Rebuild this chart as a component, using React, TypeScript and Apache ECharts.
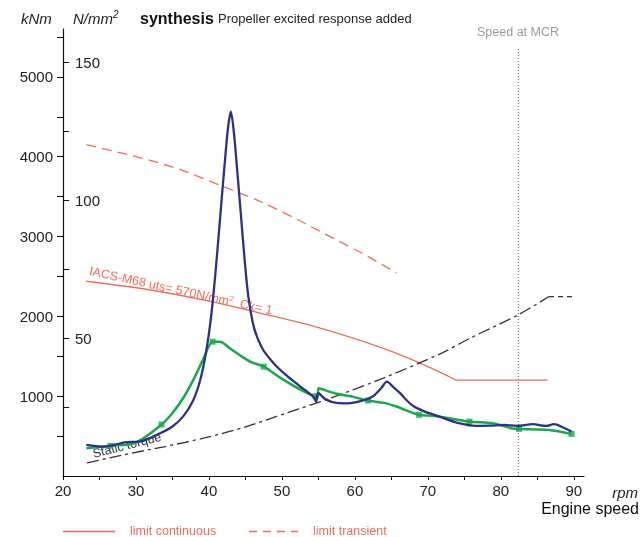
import React, { useEffect, useRef } from "react";
import * as echarts from "echarts";

// ---- axis ticks / labels ----
const rpmTicks = [20, 25, 30, 35, 40, 45, 50, 55, 60, 65, 70, 75, 80, 85, 90];
const rpmLabels = [20, 30, 40, 50, 60, 70, 80, 90];
const kNmTicks = [500, 1000, 1500, 2000, 2500, 3000, 3500, 4000, 4500, 5000, 5500];
const kNmLabels = [1000, 2000, 3000, 4000, 5000];
const stressTicks = [25, 50, 75, 100, 125, 150];
const stressLabels = [50, 100, 150];

// ---- series [rpm, kNm] ----
const responseCurve: [number, number][] = [
  [23.2, 389], [25.5, 367], [28.7, 425], [30.5, 430], [33.3, 535], [35.0, 620],
  [36.5, 750], [37.8, 940], [38.8, 1200], [39.6, 1550], [40.3, 2000], [40.9, 2550],
  [41.5, 3200], [42.1, 3850], [42.6, 4350], [43.0, 4565], [43.4, 4320], [43.9, 3800],
  [44.4, 3250], [44.9, 2700], [45.4, 2250], [46.2, 1850], [47.3, 1600], [48.8, 1420],
  [50.5, 1270], [52.4, 1130], [54.3, 993], [54.7, 930], [54.95, 1040], [56.0, 960],
  [57.5, 915], [59.0, 910], [60.9, 940], [62.5, 1000], [63.6, 1100], [64.4, 1183],
  [65.2, 1120], [66.2, 1038], [67.2, 940], [68.1, 870], [69.5, 810], [70.9, 766],
  [72.6, 710], [74.3, 661], [76.5, 628], [78.5, 630], [80.5, 640], [82.2, 628],
  [84.4, 649], [86.2, 628], [87.3, 649], [88.5, 610], [89.7, 556],
];
const propellerCurve: [number, number][] = [
  [23.2, 347], [26.5, 378], [29.9, 414], [33.5, 645], [35.0, 790], [36.5, 980],
  [38.0, 1230], [39.3, 1480], [40.5, 1683], [41.5, 1683], [43.0, 1590], [44.2, 1516],
  [45.7, 1431], [47.5, 1370], [49.8, 1230], [52.6, 1079], [54.4, 1000], [54.9, 990],
  [55.0, 1100], [57.5, 1030], [59.8, 991], [61.8, 945], [64.0, 916], [65.7, 870],
  [68.8, 766], [71.0, 753], [75.7, 682], [78.9, 661], [81.6, 595], [82.5, 590],
  [86.6, 577], [89.7, 527],
];
const propellerMarkers: [number, number][] = [
  [26.5, 378], [33.5, 645], [40.5, 1683], [47.5, 1370], [54.6, 1000], [61.8, 945],
  [68.8, 766], [75.7, 682], [82.5, 590], [89.7, 527],
];
const staticTorque: [number, number][] = [
  [23.3, 163], [28.0, 260], [33.8, 366], [39.4, 477], [45.0, 615], [50.7, 791],
  [56.5, 970], [63.9, 1226], [71.9, 1540], [75.8, 1727], [82.4, 2020], [86.6, 2248],
];
const staticTorqueEnd: [number, number][] = [[86.6, 2248], [89.8, 2248]];
const limitContinuous: [number, number][] = [
  [23.2, 2440], [32.0, 2330], [40.0, 2190], [48.0, 2020], [55.0, 1860], [60.0, 1720],
  [65.0, 1560], [70.0, 1370], [73.9, 1200],
];
const limitContinuousFlat: [number, number][] = [[73.9, 1200], [86.4, 1200]];
const limitTransient: [number, number][] = [
  [23.2, 4150], [30.5, 3990], [36.0, 3840], [42.0, 3625], [47.0, 3440], [52.2, 3210],
  [57.0, 2980], [61.0, 2790], [65.7, 2545],
];
const mcrSpeed = 82.4;
const mcrLine: [number, number][] = [[mcrSpeed, 0], [mcrSpeed, 5360]];

const FONT = "'Liberation Sans', Arial, sans-serif";
const RED = "#f26b5a";
const BLUE = "#2e3087";
const GREEN = "#16aa4a";

export default function App() {
  const ref = useRef<HTMLDivElement>(null);
  useEffect(() => {
    document.body.style.margin = "0";
    const chart = echarts.init(ref.current!, null, { renderer: "svg" });
    chart.setOption({
      animation: false,
      textStyle: { fontFamily: FONT },
      grid: { left: 63, right: 56, top: 29, bottom: 61 },
      xAxis: {
        type: "value",
        min: 20,
        max: 91.4,
        axisLine: { lineStyle: { color: "#111", width: 1.2 } },
        axisTick: { customValues: rpmTicks, length: 4, lineStyle: { color: "#111" } },
        axisLabel: { customValues: rpmLabels, fontSize: 15, color: "#222", margin: 7, formatter: (v: number) => String(v) },
        splitLine: { show: false },
      },
      yAxis: [
        {
          type: "value",
          min: 0,
          max: 5600,
          position: "left",
          axisLine: { show: true, lineStyle: { color: "#111", width: 1.2 } },
          axisTick: { show: true, customValues: kNmTicks, length: 6, lineStyle: { color: "#111" } },
          axisLabel: { customValues: kNmLabels, fontSize: 15, color: "#222", margin: 10, formatter: (v: number) => String(v) },
          splitLine: { show: false },
        },
        {
          type: "value",
          min: 0,
          max: 162,
          position: "left",
          offset: 0,
          axisLine: { show: false },
          axisTick: { show: true, inside: true, customValues: stressTicks, length: 6, lineStyle: { color: "#111" } },
          axisLabel: { inside: true, customValues: stressLabels, fontSize: 15, color: "#222", margin: 12, formatter: (v: number) => String(v) },
          splitLine: { show: false },
        },
      ],
      series: [
        {
          type: "line", data: mcrLine, showSymbol: false, silent: true,
          lineStyle: { color: "#555", width: 1, type: [1, 2] },
        },
        {
          type: "line", data: limitTransient, showSymbol: false, smooth: 0.3,
          lineStyle: { color: RED, width: 1.3, type: [10, 6] },
        },
        {
          type: "line", data: limitContinuous, showSymbol: false, smooth: 0.35,
          lineStyle: { color: RED, width: 1.3 },
        },
        {
          type: "line", data: limitContinuousFlat, showSymbol: false,
          lineStyle: { color: RED, width: 1.3 },
        },
        {
          type: "line", data: staticTorque, showSymbol: false, smooth: 0.3,
          lineStyle: { color: "#333", width: 1.3, type: [12, 4, 3, 4] },
        },
        {
          type: "line", data: staticTorqueEnd, showSymbol: false,
          lineStyle: { color: "#333", width: 1.3, type: [5, 4] },
        },
        {
          type: "line", data: propellerCurve, showSymbol: false, smooth: 0.3,
          lineStyle: { color: GREEN, width: 2.5 },
        },
        {
          type: "scatter", data: propellerMarkers, symbol: "rect", symbolSize: 6,
          itemStyle: { color: GREEN },
        },
        {
          type: "line", data: responseCurve, showSymbol: false, smooth: 0.3,
          lineStyle: { color: BLUE, width: 2.3 },
        },
      ],
      graphic: [
        { type: "text", x: 21, y: 18, style: { text: "kNm", font: `italic 15px ${FONT}`, fill: "#222", textVerticalAlign: "middle" } },
        {
          type: "text", x: 73, y: 18,
          style: {
            text: "{a|N/mm}{s|2}",
            fill: "#222",
            textVerticalAlign: "middle",
            rich: {
              a: { fontStyle: "italic", fontSize: 15, fontFamily: FONT, fill: "#222" },
              s: { fontStyle: "italic", fontSize: 10, fontFamily: FONT, fill: "#222", verticalAlign: "top", padding: [0, 0, 8, 0] },
            },
          },
        },
        { type: "text", x: 140, y: 18, style: { text: "synthesis", font: `bold 16px ${FONT}`, fill: "#111", textVerticalAlign: "middle" } },
        { type: "text", x: 218, y: 18, style: { text: "Propeller excited response added", font: `13px ${FONT}`, fill: "#222", textVerticalAlign: "middle" } },
        { type: "text", x: 518, y: 32, style: { text: "Speed at MCR", font: `12.5px ${FONT}`, fill: "#999", textAlign: "center", textVerticalAlign: "middle" } },
        { type: "text", x: 638, y: 492, style: { text: "rpm", font: `italic 15px ${FONT}`, fill: "#222", textAlign: "right", textVerticalAlign: "middle" } },
        { type: "text", x: 639, y: 508, style: { text: "Engine speed", font: `16px ${FONT}`, fill: "#111", textAlign: "right", textVerticalAlign: "middle" } },
        {
          type: "text", x: 91, y: 264, rotation: -0.215,
          style: {
            text: "IACS-M68 uts= 570N/mm{s|2}  Ck= 1",
            font: `12.5px ${FONT}`,
            fill: RED,
            textVerticalAlign: "top",
            rich: { s: { fontSize: 8, fontFamily: FONT, fill: RED, verticalAlign: "top", padding: [0, 0, 6, 0] } },
          },
        },
        {
          type: "text", x: 93, y: 454, rotation: 0.25,
          style: { text: "Static torque", font: `12.5px ${FONT}`, fill: "#333", textVerticalAlign: "middle" },
        },
        { type: "line", shape: { x1: 63, y1: 531.5, x2: 115, y2: 531.5 }, style: { stroke: RED, lineWidth: 1.3 } },
        { type: "text", x: 130, y: 531, style: { text: "limit continuous", font: `12.5px ${FONT}`, fill: RED, textVerticalAlign: "middle" } },
        { type: "line", shape: { x1: 249, y1: 531.5, x2: 298, y2: 531.5 }, style: { stroke: RED, lineWidth: 1.3, lineDash: [8, 6] } },
        { type: "text", x: 313, y: 531, style: { text: "limit transient", font: `12.5px ${FONT}`, fill: RED, textVerticalAlign: "middle" } },
      ],
    });
    return () => chart.dispose();
  }, []);
  return <div ref={ref} style={{ position: "fixed", left: 0, top: 0, width: 640, height: 537 }} />;
}
